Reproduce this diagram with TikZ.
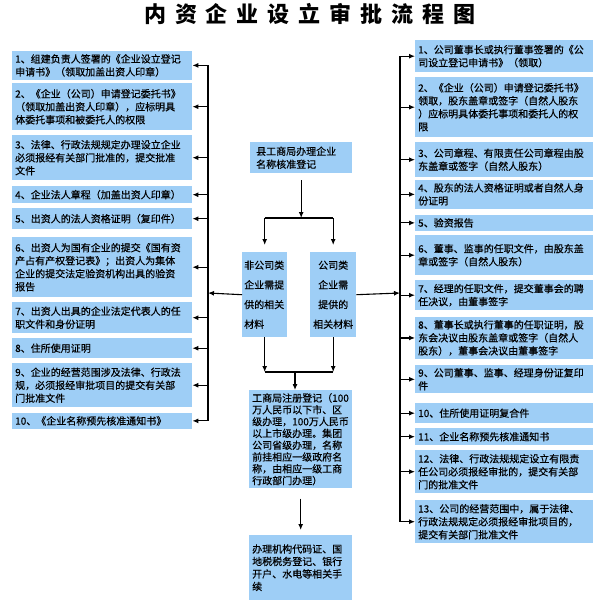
\documentclass[tikz,border=0pt]{standalone}
\usepackage{fontspec}
\setmainfont{Noto Sans CJK SC}
\newfontfamily\boxfont{Noto Sans CJK SC}[FakeBold=0.4]
\usepackage{tikz}
\usetikzlibrary{arrows.meta}
\definecolor{boxblue}{RGB}{158,206,246}
\newcommand{\tgap}{\hspace{9pt}}
\tikzset{
  infobox/.style={fill=boxblue, inner sep=3pt, anchor=north west, align=left, font=\boxfont\fontsize{10}{13}\selectfont},
  lbox/.style={infobox, text width=174pt, minimum width=180pt},
  rbox/.style={infobox, text width=172pt, minimum width=178pt},
  arr/.style={-{Latex[length=6pt,width=5pt]}, line width=1.1pt},
  link/.style={line width=1.1pt},
}

\begin{document}
\begin{tikzpicture}[x=1pt, y=-1pt]
    \useasboundingbox (0,0) rectangle (607,604);
    \node[font=\fontsize{22}{22}\selectfont\bfseries] (title) at (310,14) {内\tgap 资\tgap 企\tgap 业\tgap 设\tgap 立\tgap 审\tgap 批\tgap 流\tgap 程\tgap 图};

    \node[lbox, minimum height=27pt] (L1) at (12,51) {1、组建负责人签署的《企业设立登记\\申请书》（领取加盖出资人印章）};
    \node[lbox, minimum height=47pt] (L2) at (12,83) {2、《企业（公司）申请登记委托书》\\（领取加盖出资人印章），应标明具\\体委托事项和被委托人的权限};
    \node[lbox, minimum height=45pt] (L3) at (12,135) {3、法律、行政法规规定办理设立企业\\必须报经有关部门批准的，提交批准\\文件};
    \node[lbox, minimum height=17pt] (L4) at (12,186) {4、企业法人章程（加盖出资人印章）};
    \node[lbox, minimum height=21pt] (L5) at (12,208) {5、出资人的法人资格证明（复印件）};
    \node[lbox, minimum height=60pt] (L6) at (12,237) {6、出资人为国有企业的提交《国有资\\产占有产权登记表》；出资人为集体\\企业的提交法定验资机构出具的验资\\报告};
    \node[lbox, minimum height=31pt] (L7) at (12,302) {7、出资人出具的企业法定代表人的任\\职文件和身份证明};
    \node[lbox, minimum height=20pt] (L8) at (12,338) {8、住所使用证明};
    \node[lbox, minimum height=44pt] (L9) at (12,363) {9、企业的经营范围涉及法律、行政法\\规，必须报经审批项目的提交有关部\\门批准文件};
    \node[lbox, minimum height=15pt] (L10) at (12,413) {10、《企业名称预先核准通知书》};

    \node[rbox, minimum height=32pt] (R1) at (415,40) {1、公司董事长或执行董事签署的《公\\司设立登记申请书》（领取）};
    \node[rbox, minimum height=60pt] (R2) at (415,77) {2、《企业（公司）申请登记委托书》\\领取，股东盖章或签字（自然人股东\\）应标明具体委托事项和委托人的权\\限};
    \node[rbox, minimum height=35pt] (R3) at (415,142) {3、公司章程、有限责任公司章程由股\\东盖章或签字（自然人股东）};
    \node[rbox, minimum height=28pt] (R4) at (415,180) {4、股东的法人资格证明或者自然人身\\份证明};
    \node[rbox, minimum height=13pt] (R5) at (415,215) {5、验资报告};
    \node[rbox, minimum height=40pt] (R6) at (415,235) {6、董事、监事的任职文件，由股东盖\\章或签字（自然人股东）};
    \node[rbox, minimum height=30pt] (R7) at (415,280) {7、经理的任职文件，提交董事会的聘\\任决议，由董事签字};
    \node[rbox, minimum height=41pt] (R8) at (415,317) {8、董事长或执行董事的任职证明，股\\东会决议由股东盖章或签字（自然人\\股东），董事会决议由董事签字};
    \node[rbox, minimum height=28pt] (R9) at (415,365) {9、公司董事、监事、经理身份证复印\\件};
    \node[rbox, minimum height=20pt] (R10) at (415,403) {10、住所使用证明复合件};
    \node[rbox, minimum height=17pt] (R11) at (415,428) {11、企业名称预先核准通知书};
    \node[rbox, minimum height=43pt] (R12) at (415,450) {12、法律、行政法规规定设立有限责\\任公司必须报经审批的，提交有关部\\门的批准文件};
    \node[rbox, minimum height=43pt] (R13) at (415,500) {13、公司的经营范围中，属于法律、\\行政法规规定必须报经审批项目的，\\提交有关部门批准文件};

    \node[infobox, inner xsep=6pt, text width=90pt, minimum height=31pt] (name) at (250,142) {县工商局办理企业\\名称核准登记};
    \node[infobox, inner sep=2pt, text width=41pt, minimum height=85pt, font=\boxfont\fontsize{10}{19.7}\selectfont] (other) at (242,252) {非公司类\\企业需提\\供的相关\\材料};
    \node[infobox, inner sep=2pt, text width=42pt, minimum height=85pt, align=center, font=\boxfont\fontsize{10}{19.7}\selectfont] (company) at (310,252) {公司类\\企业需\\提供的\\相关材料};
    \node[infobox, text width=97pt, minimum height=98pt, font=\boxfont\fontsize{10}{11.8}\selectfont] (register) at (249,390) {工商局注册登记（100\\万人民币以下市、区\\级办理，100万人民币\\以上市级办理。集团\\公司省级办理，名称\\前挂相应一级政府名\\称，由相应一级工商\\行政部门办理）};
    \node[infobox, text width=97pt, minimum height=65pt, font=\boxfont\fontsize{10}{12.5}\selectfont] (after) at (249,535) {办理机构代码证、国\\地税税务登记、银行\\开户、水电等相关手\\续};

    \coordinate (topfork) at (298,218);
    \coordinate (botfork) at (295,372);
    \coordinate (lbus) at (208,293);
    \coordinate (rbus) at (400,293);

    \draw[arr] ([yshift=-7pt]name.south) -- (name.south |- topfork);
    \draw[link] (other.north |- topfork) -- (company.north |- topfork);
    \draw[arr] (other.north |- topfork) -- ([yshift=7pt]other.north);
    \draw[arr] (company.north |- topfork) -- ([yshift=7pt]company.north);

    \draw[arr] (other.south) -- (other.south |- botfork);
    \draw[arr] (company.south) -- (company.south |- botfork);
    \draw[link] (other.south |- botfork) -- (company.south |- botfork);
    \draw[arr] (botfork) -- (botfork |- register.north);
    \draw[arr] ([yshift=-10pt]register.south) -- ([yshift=5pt]after.north);

    \draw[arr] (other.west) -- (lbus);
    \draw[arr] (company.east) -- (rbus);
    \draw[link] (lbus |- L1.east) -- (lbus |- L10.east);
    \draw[link] (rbus |- R1.west) -- (rbus |- R13.west);
    \foreach \i in {1,...,10}
        \draw[arr] (lbus |- L\i.east) -- (L\i.east);
    \foreach \i in {1,...,13}
        \draw[arr] (rbus |- R\i.west) -- (R\i.west);
\end{tikzpicture}
\end{document}
